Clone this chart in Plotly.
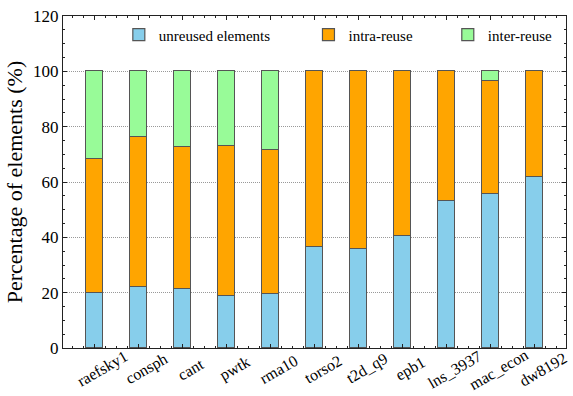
import plotly.graph_objects as go

categories = ["raefsky1", "consph", "cant", "pwtk", "rma10", "torso2",
              "t2d_q9", "epb1", "lns_3937", "mac_econ", "dw8192"]
unreused = [20.0, 22.2, 21.2, 18.8, 19.4, 36.6, 35.7, 40.6, 53.0, 55.5, 61.7]
intra = [48.4, 53.9, 51.6, 54.3, 52.2, 63.4, 64.3, 59.4, 47.0, 41.0, 38.3]
inter = [31.6, 23.9, 27.2, 26.9, 28.4, 0.0, 0.0, 0.0, 0.0, 3.5, 0.0]
y_ticks = [0, 20, 40, 60, 80, 100, 120]

FONT = "Liberation Serif"
xs = list(range(len(categories)))
edge = dict(color="#555555", width=1.2)

fig = go.Figure()
fig.add_bar(x=xs, y=unreused, name="unreused elements", width=0.39,
            marker=dict(color="#87CEEB", line=edge), legend="legend", showlegend=True)
fig.add_bar(x=xs, y=intra, name="intra-reuse", width=0.39,
            marker=dict(color="#FFA500", line=edge), legend="legend2", showlegend=True)
fig.add_bar(x=xs, y=inter, name="inter-reuse", width=0.39,
            marker=dict(color="#98FB98", line=edge), legend="legend3", showlegend=True)

for i, c in enumerate(categories):
    fig.add_annotation(x=i, y=0, xref="x", yref="y", text=c, showarrow=False,
                       textangle=-30, xanchor="center", yanchor="middle",
                       xshift=8, yshift=-21,
                       font=dict(family=FONT, size=16, color="black"))

leg_common = dict(orientation="h", yanchor="middle", y=0.943, xanchor="left",
                  bgcolor="rgba(0,0,0,0)", font=dict(family=FONT, size=15, color="black"))

fig.update_layout(
    width=573, height=396,
    margin=dict(l=63, r=7, t=16, b=48),
    paper_bgcolor="white", plot_bgcolor="white",
    barmode="stack", bargap=0,
    showlegend=True,
    font=dict(family=FONT, size=15, color="black"),
    legend=dict(x=0.111, **leg_common),
    legend2=dict(x=0.488, **leg_common),
    legend3=dict(x=0.765, **leg_common),
    xaxis=dict(range=[-0.716, 10.716], tickmode="array", tickvals=xs,
               showticklabels=False, ticks="inside", ticklen=4, tickcolor="#222",
               minor=dict(dtick=0.25, tick0=0, ticks="inside", ticklen=2, tickcolor="#222"),
               showline=True, linecolor="#222", linewidth=1.2, mirror="allticks",
               showgrid=False, zeroline=False),
    yaxis=dict(range=[0, 120], tickmode="array", tickvals=y_ticks,
               ticks="inside", ticklen=4, tickcolor="#222",
               minor=dict(dtick=5, tick0=0, ticks="inside", ticklen=2, tickcolor="#222",
                          showgrid=False),
               showline=True, linecolor="#222", linewidth=1.2, mirror="allticks",
               showgrid=True, gridcolor="#999999", griddash="1px,1px", gridwidth=0.8,
               zeroline=False,
               tickfont=dict(family=FONT, size=17, color="black"),
               title=dict(text="Percentage of elements (%)", standoff=4,
                          font=dict(family=FONT, size=22, color="black"))),
)

fig.write_html("out.html")
